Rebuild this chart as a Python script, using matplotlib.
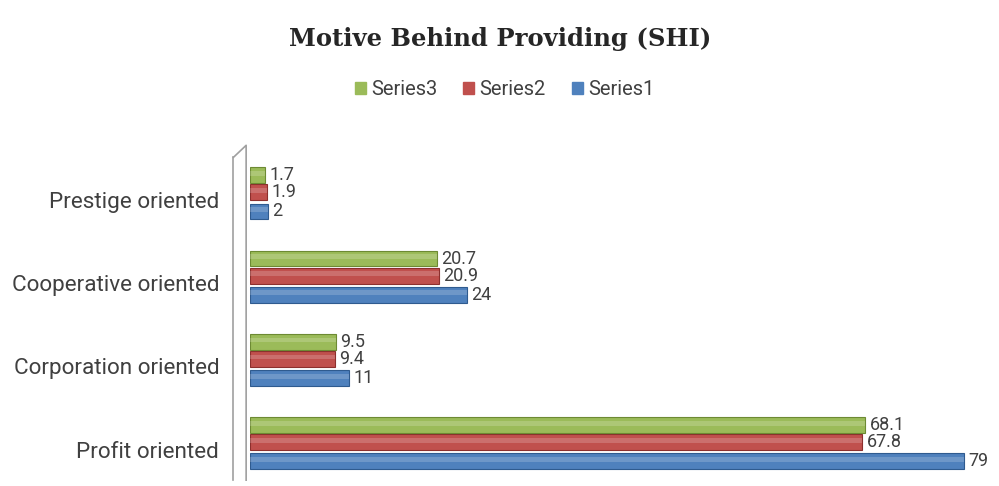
import matplotlib.pyplot as plt
import numpy as np
from matplotlib.patches import Patch

categories = ["Profit oriented", "Corporation oriented", "Cooperative oriented", "Prestige oriented"]
series1 = [79, 11, 24, 2]
series2 = [67.8, 9.4, 20.9, 1.9]
series3 = [68.1, 9.5, 20.7, 1.7]
labels1 = ["79", "11", "24", "2"]
labels2 = ["67.8", "9.4", "20.9", "1.9"]
labels3 = ["68.1", "9.5", "20.7", "1.7"]

plt.rcParams['font.family'] = ['Roboto', 'DejaVu Sans']

fig = plt.figure(figsize=(9.99, 4.86), dpi=100)
ax = fig.add_axes([0.25, 0.012, 0.74, 0.689])

y = np.arange(len(categories))
h = 0.19
specs = [
    (series1, labels1, -0.23, "#4f81bd", "#2f5b8f", "Series1"),
    (series2, labels2, 0.0, "#c0504d", "#8c2f2d", "Series2"),
    (series3, labels3, 0.205, "#9bbb59", "#6d8a33", "Series3"),
]
for vals, labs, off, col, edge, name in specs:
    ax.barh(y + off, vals, height=h, color=col, edgecolor=edge, linewidth=0.8, label=name)
    # highlight stripe to hint at the cylinder shape
    ax.barh(y + off + h * 0.12, vals, height=h * 0.3, color="white", alpha=0.18, linewidth=0)
    for v, t, yy in zip(vals, labs, y + off):
        ax.text(v + 0.5, yy, t, va="center", ha="left", fontsize=13, color="#404040")

ax.set_xlim(0, 81.8)
ax.set_ylim(-0.456, 3.564)
ax.set_yticks(y - 0.09)
ax.set_yticklabels(categories, fontsize=16.2, color="#404040")
ax.tick_params(axis="y", length=0, pad=22)
ax.set_xticks([])
for s in ax.spines.values():
    s.set_visible(False)

# back wall outline of the 3d plot area
ax.plot([-1.8, -1.8], [-0.456, 3.42], color="#a0a0a0", lw=1.2, clip_on=False)
ax.plot([-1.8, -0.4, -0.4], [3.42, 3.564, -0.456], color="#a0a0a0", lw=1.2, clip_on=False)

fig.text(0.501, 0.92, "Motive Behind Providing (SHI)", ha="center", va="center",
         fontsize=17.5, fontweight="bold", family="DejaVu Serif", color="#262626")

handles = [Patch(color="#9bbb59", label="Series3"),
           Patch(color="#c0504d", label="Series2"),
           Patch(color="#4f81bd", label="Series1")]
leg = fig.legend(handles=handles, loc="center", bbox_to_anchor=(0.505, 0.815), ncol=3,
                 frameon=False, fontsize=14.5, handlelength=0.55, handleheight=0.55,
                 handletextpad=0.25, columnspacing=1.3)
for t in leg.get_texts():
    t.set_color("#404040")

fig.savefig("out.png", dpi=100)
